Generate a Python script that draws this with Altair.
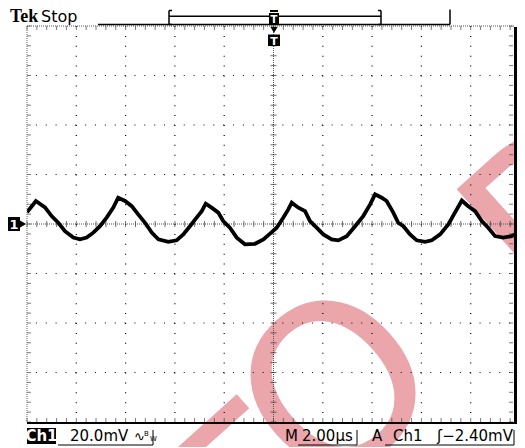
import altair as alt
import pandas as pd

# ---- data (time in microseconds, voltage in mV; 2 us/div, 20 mV/div) ----
time_us = [-10.0, -9.64, -9.27, -9.0, -8.73, -8.46, -8.12, -7.85, -7.58, -7.31,
           -7.04, -6.77, -6.5, -6.3, -6.02, -5.75, -5.49, -5.21, -4.94, -4.67,
           -4.27, -3.93, -3.66, -3.39, -3.12, -2.91, -2.75, -2.51, -2.24, -2.04,
           -1.77, -1.49, -1.16, -0.75, -0.41, -0.14, 0.13, 0.4, 0.6, 0.74,
           1.01, 1.28, 1.48, 1.75, 2.02, 2.36, 2.63, 2.97, 3.31, 3.64,
           3.92, 4.12, 4.39, 4.59, 4.86, 5.06, 5.27, 5.54, 5.81, 6.15,
           6.42, 6.76, 7.09, 7.36, 7.64, 7.9, 8.18, 8.45, 8.71, 8.99,
           9.32, 9.66, 9.93, 10.0]
volt_mV = [4.7, 9.3, 6.7, 3.2, 0.5, -2.9, -5.5, -6.2, -5.5, -3.5,
           -0.9, 2.6, 6.6, 10.6, 9.3, 7.2, 3.9, 0.5, -3.5, -6.2,
           -7.2, -6.6, -4.2, -0.9, 2.6, 5.2, 8.2, 6.6, 4.6, 1.2,
           -1.5, -5.5, -8.2, -8.0, -6.2, -3.9, -1.5, 2.6, 5.9, 8.6,
           6.6, 5.2, 1.2, -1.5, -4.2, -6.2, -6.6, -4.9, -0.9, 3.2,
           7.9, 12.0, 10.6, 9.3, 4.6, 0.5, -0.9, -4.2, -6.6, -7.2,
           -6.6, -4.2, -0.2, 4.6, 9.5, 7.2, 5.2, 1.2, -1.5, -4.9,
           -5.5, -4.9, -3.5, -3.0]

x_major = [-8, -6, -4, -2, 2, 4, 6, 8]
y_major = [-60, -40, -20, 20, 40, 60]
minor_t = [round(-10 + 0.4 * i, 2) for i in range(51)]
minor_v = [round(-80 + 4 * i, 1) for i in range(41)]

# watermark letters (partly visible, large pink, rotated)
wm_letters = ["F", "O", "R"]
wm_x = [233, 295, 523]
wm_y = [568, 478, 300]

W, H = 493, 396
xs = alt.Scale(domain=[-10, 10], nice=False, zero=False)
ys = alt.Scale(domain=[-80, 80], nice=False, zero=False)
X = lambda f: alt.X(f, scale=xs, axis=None)
Y = lambda f: alt.Y(f, scale=ys, axis=None)

one = pd.DataFrame({"a": [0]})

wave = alt.Chart(pd.DataFrame({"t": time_us, "v": volt_mV})).mark_line(
    color="black", strokeWidth=3.8, clip=True).encode(x=X("t:Q"), y=Y("v:Q"))

vgrid = alt.Chart(pd.DataFrame({"t": x_major})).mark_rule(
    color="black", strokeDash=[1, 8.9], strokeWidth=1.2).encode(x=X("t:Q"))
hgrid = alt.Chart(pd.DataFrame({"v": y_major})).mark_rule(
    color="black", strokeDash=[1, 8.86], strokeWidth=1.2).encode(y=Y("v:Q"))

cx = alt.Chart(pd.DataFrame({"t": [0]})).mark_rule(
    color="#555", strokeDash=[1, 1]).encode(x=X("t:Q"))
cy = alt.Chart(pd.DataFrame({"v": [0]})).mark_rule(
    color="#555", strokeDash=[1, 1]).encode(y=Y("v:Q"))

tdf = pd.DataFrame({"t": minor_t})
vdf = pd.DataFrame({"v": minor_v})
CY = H / 2
CX = W / 2
RB = W - 6  # right border drawn just inside the page width
ticks_h = alt.Chart(tdf).mark_tick(orient="vertical", size=6, thickness=1, color="#333").encode(
    x=X("t:Q"), y=alt.value(CY))
ticks_v = alt.Chart(vdf).mark_tick(orient="horizontal", size=6, thickness=1, color="#333").encode(
    y=Y("v:Q"), x=alt.value(CX))
ticks_top = alt.Chart(tdf).mark_tick(orient="vertical", size=4, thickness=1, color="#444").encode(
    x=X("t:Q"), y=alt.value(2))
ticks_bot = alt.Chart(tdf).mark_tick(orient="vertical", size=4, thickness=1, color="#444").encode(
    x=X("t:Q"), y=alt.value(H - 2))
ticks_left = alt.Chart(vdf).mark_tick(orient="horizontal", size=4, thickness=1, color="#444").encode(
    y=Y("v:Q"), x=alt.value(2))
ticks_right = alt.Chart(vdf).mark_tick(orient="horizontal", size=4, thickness=1, color="#444").encode(
    y=Y("v:Q"), x=alt.value(RB - 3))


def txt(s, x, y, size=15, font="DejaVu Sans", weight="normal", color="black", align="left"):
    return alt.Chart(one).mark_text(text=s, font=font, fontSize=size, fontWeight=weight, color=color,
                                    align=align, baseline="alphabetic").encode(x=alt.value(x), y=alt.value(y))


def seg(x1, y1, x2, y2, w=1.5, color="black", dash=None):
    kw = dict(color=color, strokeWidth=w)
    if dash:
        kw["strokeDash"] = dash
    return alt.Chart(one).mark_rule(**kw).encode(
        x=alt.value(x1), y=alt.value(y1), x2=alt.value(x2), y2=alt.value(y2))


def box(x1, y1, x2, y2, color="black"):
    return alt.Chart(one).mark_rect(color=color).encode(
        x=alt.value(x1), y=alt.value(y1), x2=alt.value(x2), y2=alt.value(y2))


watermark = [
    alt.Chart(one).mark_text(
        text=s, font="DejaVu Sans", fontSize=225, color="#eaa6ab", angle=318,
        align="left", baseline="alphabetic").encode(x=alt.value(x), y=alt.value(y))
    for s, x, y in zip(wm_letters, wm_x, wm_y)
]

borders = [
    seg(0, 0, 0, H, w=1, color="#666", dash=[1, 1]),
    seg(0, 0, RB, 0, w=1, color="#555", dash=[1, 1]),
    seg(RB + 1.5, 1, RB + 1.5, H + 1, w=3),
    seg(0, H + 1, RB + 3, H + 1, w=2),
]

hdr = [
    txt("Tek", -17, -4, size=18, font="Liberation Serif", weight="bold"),
    txt("Stop", 14, -4, size=16),
    seg(71, -1.5, 423, -1.5),
    seg(423, -16.5, 423, -1.5),
    seg(142, -15.5, 142, -1.5),
    seg(354, -15.5, 354, -1.5),
    seg(142, -9.8, 354, -9.8),
    seg(142, -15.5, 145, -15.5), seg(142, -1.5, 145, -1.5),
    seg(351, -15.5, 354, -15.5), seg(351, -1.5, 354, -1.5),
    box(242, -13, 252, -2),
    txt("T", 247, -3, size=10, color="white", weight="bold", align="center"),
    box(243, -16, 251, -14),
    box(241, 8.5, 253, 20),
    txt("T", 247, 18.5, size=11, color="white", weight="bold", align="center"),
    alt.Chart(one).mark_point(shape="triangle-down", filled=True, color="black", size=50, opacity=1).encode(
        x=alt.value(247), y=alt.value(4)),
]

chm = [
    box(-19, CY - 7, -7, CY + 7),
    alt.Chart(one).mark_point(shape="triangle-right", filled=True, color="black", size=90, opacity=1).encode(
        x=alt.value(-5), y=alt.value(CY)),
    txt("1", -13, CY + 5, size=13, color="white", weight="bold", align="center"),
]

fy = 415
ftr = [
    box(0, 402, 29, 418),
    txt("Ch1", 14.5, fy, size=15, color="white", weight="bold", align="center"),
    txt("20.0mV", 43, fy, size=15),
    txt("∿", 107, fy, size=13),
    txt("B", 117, fy - 5, size=7), txt("W", 123, fy, size=7),
    seg(31, 419, 126, 419, w=1), seg(126, 404, 126, 419, w=1),
    txt("M", 258, fy, size=15),
    txt("2.00µs", 275, fy, size=15),
    seg(271, 419, 330, 419, w=1), seg(330, 404, 330, 419, w=1),
    txt("A", 345, fy, size=15),
    txt("Ch1", 366, fy, size=15),
    txt("ʃ−2.40mV", RB - 1, fy, size=15, align="right"),
    seg(358, 419, RB, 419, w=1), seg(RB, 404, RB, 419, w=1),
]

layers = watermark + [vgrid, hgrid, cx, cy, ticks_h, ticks_v, ticks_top, ticks_bot, ticks_left, ticks_right,
                      wave] + borders + hdr + chm + ftr

chart = alt.layer(*layers).properties(
    width=W, height=H,
    padding={"left": 19, "top": 18, "right": -3, "bottom": 25},
    autosize=alt.AutoSizeParams(type="none"),
).configure_view(stroke=None)

chart.save("out.html", embed_options={"renderer": "svg", "actions": False})
